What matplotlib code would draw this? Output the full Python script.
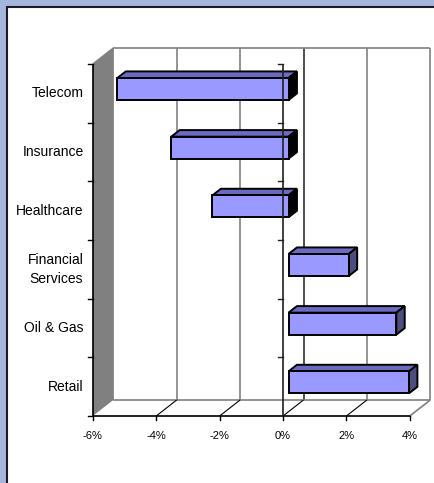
import numpy as np
import matplotlib
matplotlib.use("Agg")
import matplotlib.pyplot as plt
from matplotlib.patches import Polygon, Rectangle

# data (top to bottom as shown)
categories = ['Telecom', 'Insurance', 'Healthcare', 'Financial\nServices', 'Oil & Gas', 'Retail']
returns = [-5.4, -3.7, -2.4, 1.9, 3.4, 3.8]
x_ticks = [-6, -4, -2, 0, 2, 4]
x_tick_labels = ['-6%', '-4%', '-2%', '0%', '2%', '4%']

# oblique "3d" look: shift of the back plane in data units
DX = 0.647
DY = 0.273
D0, D1 = 0.27, 0.68   # bar depth (fraction of the box depth)
BAR_H = 0.375


def proj(v, y, d):
    return (v + d * DX, y + d * DY)


def face(ax, pts, fc, ec='black', lw=1.4, z=3):
    ax.add_patch(Polygon([proj(*p) for p in pts], closed=True, fc=fc, ec=ec, lw=lw, zorder=z))


def line(ax, p0, p1, c, lw=1.0, z=2):
    a = proj(*p0)
    b = proj(*p1)
    ax.plot([a[0], b[0]], [a[1], b[1]], color=c, lw=lw, zorder=z, solid_capstyle='butt')


def main():
    fig = plt.figure(figsize=(4.35, 4.83), dpi=100)
    fig.patch.set_facecolor('#A6B5DC')
    plt.rcParams['font.family'] = ['Liberation Sans', 'DejaVu Sans']

    # white panel
    fig.patches.append(Rectangle((7 / 435, -0.01), 1.0, (483 - 7) / 483 + 0.01, transform=fig.transFigure,
                                 fc='white', ec='#1a1a2a', lw=1.5, zorder=-1))

    ax = fig.add_axes([0, 0, 1, 1])
    ax.set_zorder(2)
    ax.set_facecolor('none')
    ax.axis('off')
    ax.set_xlim(-283 / 31.7, (435 - 283) / 31.7)
    ax.set_ylim(-67 / 58.67, (483 - 67) / 58.67)

    n = len(categories)
    vmin, vmax = x_ticks[0], x_ticks[-1]

    # left wall
    face(ax, [(vmin, 0, 0), (vmin, n, 0), (vmin, n, 1), (vmin, 0, 1)], '#808080', ec='none', z=1)
    # back wall gridlines + frame
    for v in x_ticks:
        c = '#303030' if v == 0 else '#808080'
        line(ax, (v, 0, 1), (v, n, 1), c, lw=1.2, z=1)
    line(ax, (vmin, n, 1), (vmax, n, 1), '#808080', lw=1.2, z=1)
    line(ax, (vmin, 0, 1), (vmax, 0, 1), '#808080', lw=1.2, z=1)
    line(ax, (vmax, 0, 0), (vmax, 0, 1), '#808080', lw=1.2, z=1)
    line(ax, (vmin, n, 0), (vmin, n, 1), '#808080', lw=1.0, z=1)
    # floor diagonals
    for v in x_ticks[1:-1]:
        line(ax, (v, 0, 0), (v, 0, 1), 'black', lw=0.8, z=1)

    # front axes
    line(ax, (vmin, 0, 0), (vmax, 0, 0), 'black', lw=1.2, z=2)
    line(ax, (vmin, 0, 0), (vmin, n, 0), 'black', lw=1.2, z=2)
    tick_x = 5 / 31.7
    tick_y = 4 / 58.67
    for v, lab in zip(x_ticks, x_tick_labels):
        ax.plot([v, v], [0, -tick_y], color='black', lw=1.0)
        ax.text(v, -0.34, lab, ha='center', va='center', fontsize=8)
    for k in range(n + 1):
        ax.plot([vmin - tick_x, vmin], [k, k], color='black', lw=1.0)

    # bars
    for i, (cat, val) in enumerate(zip(categories, returns)):
        c = n - i - 0.5
        lo, hi = c - BAR_H / 2, c + BAR_H / 2
        a, b = min(0, val), max(0, val)
        face(ax, [(a, hi, D0), (b, hi, D0), (b, hi, D1), (a, hi, D1)], '#6B6BC2')
        side = 'black' if val < 0 else '#4D4D80'
        face(ax, [(b, lo, D0), (b, hi, D0), (b, hi, D1), (b, lo, D1)], side)
        face(ax, [(a, lo, D0), (b, lo, D0), (b, hi, D0), (a, hi, D0)], '#9999FF')
        ax.text(vmin - 9 / 31.7, n - i - 0.5, cat, ha='right', va='center', fontsize=10,
                multialignment='center', linespacing=1.5)

    # category axis at zero, drawn over the bars
    line(ax, (0, 0, 0), (0, n, 0), '#202020', lw=1.2, z=5)
    for k in range(1, n + 1):
        ax.plot([-tick_x, 0], [k, k], color='#202020', lw=1.0, zorder=5)

    fig.savefig('out.png', dpi=100, facecolor=fig.get_facecolor())


if __name__ == "__main__":
    main()
